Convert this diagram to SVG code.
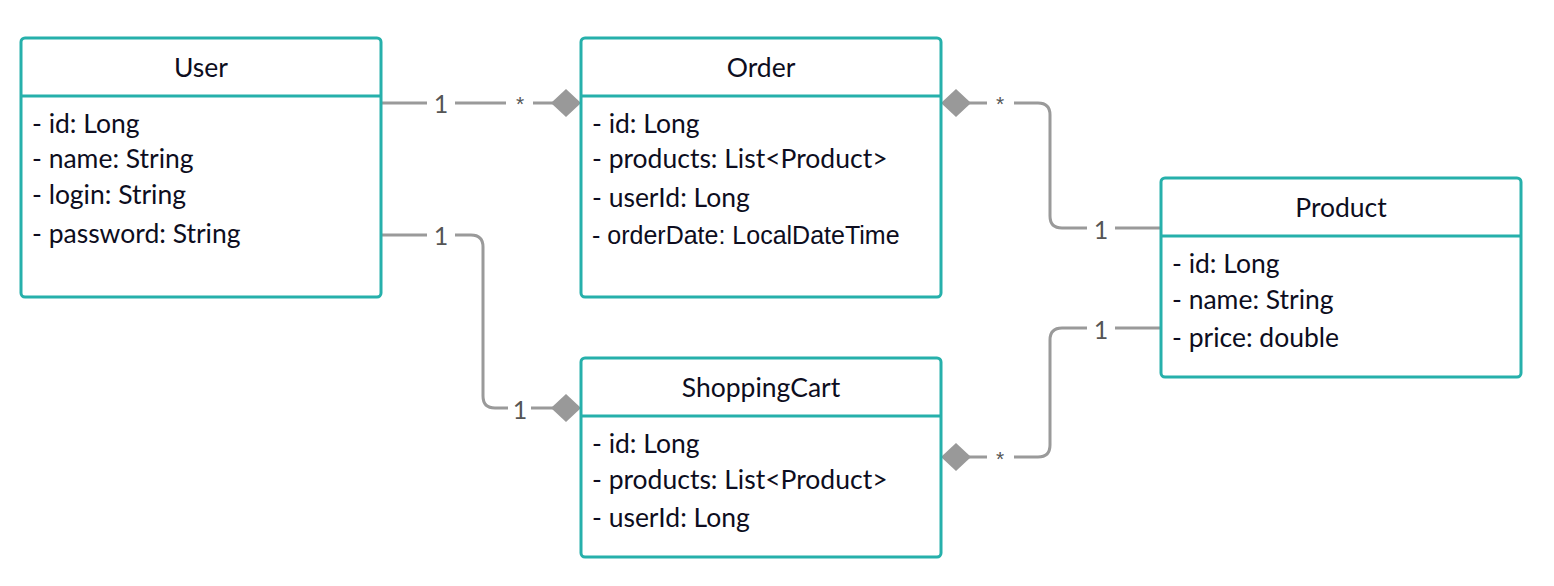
<svg xmlns="http://www.w3.org/2000/svg" width="1554" height="586" viewBox="0 0 1554 586">
<style>
.box{fill:#fff;stroke:#26b0ab;stroke-width:3}
.div{stroke:#26b0ab;stroke-width:3}
.title{font-family:Lato,"Liberation Sans",sans-serif;font-size:26.5px;fill:#0d0d20;text-anchor:middle}
.attr{font-family:Lato,"Liberation Sans",sans-serif;font-size:26.5px;fill:#0d0d20}
.attr2{font-family:"Liberation Sans",Arial,sans-serif;font-size:25px;fill:#0d0d20}
.conn{fill:none;stroke:#9a9a9a;stroke-width:3}
.dia{fill:#999}
.lbl{font-family:Lato,"Liberation Sans",sans-serif;font-size:25px;fill:#555;text-anchor:middle}
.star{font-family:"Liberation Sans",Arial,sans-serif;font-size:21px;fill:#555;text-anchor:middle}
</style>
<rect width="1554" height="586" fill="#fff"/>
<g id="connectors">
  <path class="conn" d="M381 103 H427 M455 103 H506 M533 103 H553"/>
  <polygon class="dia" points="551,103 566,89 581,103 566,117"/>
  <text class="lbl" x="441" y="113">1</text>
  <text class="star" x="520" y="111">*</text>

  <polygon class="dia" points="941,103 956,89 971,103 956,117"/>
  <path class="conn" d="M969 103 H987 M1014 103 H1038 Q1050 103 1050 115 V216 Q1050 228 1062 228 H1087 M1115 228 H1161"/>
  <text class="star" x="1000" y="111">*</text>
  <text class="lbl" x="1101" y="239">1</text>

  <path class="conn" d="M1161 328 H1115 M1087 328 H1062 Q1050 328 1050 340 V445 Q1050 457 1038 457 H1014 M987 457 H969"/>
  <polygon class="dia" points="941,457 956,443 971,457 956,471"/>
  <text class="lbl" x="1101" y="339">1</text>
  <text class="star" x="1000" y="466">*</text>

  <path class="conn" d="M381 235 H427 M455 235 H471 Q483 235 483 247 V396 Q483 408 495 408 H508 M531 408 H553"/>
  <polygon class="dia" points="551,408 566,394 581,408 566,422"/>
  <text class="lbl" x="441" y="245">1</text>
  <text class="lbl" x="520" y="419">1</text>
</g>
<g id="user">
  <rect class="box" x="21" y="38" width="360" height="259" rx="4"/>
  <line class="div" x1="21" y1="96" x2="381" y2="96"/>
  <text class="title" x="201" y="77">User</text>
  <text class="attr" x="32" y="133">- id: Long</text>
  <text class="attr" x="32" y="168">- name: String</text>
  <text class="attr" x="32" y="204">- login: String</text>
  <text class="attr" x="32" y="243">- password: String</text>
</g>
<g id="order">
  <rect class="box" x="581" y="38" width="360" height="259" rx="4"/>
  <line class="div" x1="581" y1="96" x2="941" y2="96"/>
  <text class="title" x="761" y="77">Order</text>
  <text class="attr" x="592" y="133">- id: Long</text>
  <text class="attr" x="592" y="168">- products: List&lt;Product&gt;</text>
  <text class="attr" x="592" y="207">- userId: Long</text>
  <text class="attr2" x="592" y="244">- orderDate: LocalDateTime</text>
</g>
<g id="product">
  <rect class="box" x="1161" y="178" width="360" height="199" rx="4"/>
  <line class="div" x1="1161" y1="236" x2="1521" y2="236"/>
  <text class="title" x="1341" y="217">Product</text>
  <text class="attr" x="1172" y="273">- id: Long</text>
  <text class="attr" x="1172" y="309">- name: String</text>
  <text class="attr" x="1172" y="347">- price: double</text>
</g>
<g id="shoppingcart">
  <rect class="box" x="581" y="358" width="360" height="199" rx="4"/>
  <line class="div" x1="581" y1="416" x2="941" y2="416"/>
  <text class="title" x="761" y="397">ShoppingCart</text>
  <text class="attr" x="592" y="453">- id: Long</text>
  <text class="attr" x="592" y="489">- products: List&lt;Product&gt;</text>
  <text class="attr" x="592" y="527">- userId: Long</text>
</g>
</svg>
